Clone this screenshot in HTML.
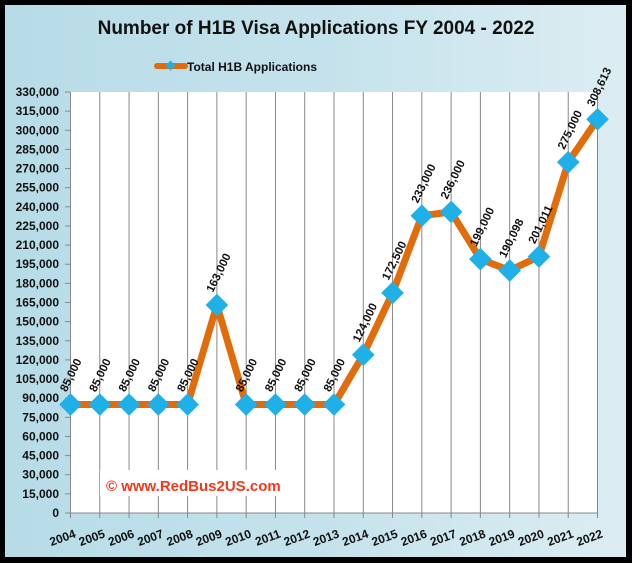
<!DOCTYPE html>
<html><head><meta charset="utf-8"><style>
html,body{margin:0;padding:0;background:#000;}
svg{display:block;}
text{font-family:"Liberation Sans",sans-serif;font-weight:bold;fill:#111;}
</style></head><body>
<svg width="632" height="563" viewBox="0 0 632 563" xmlns="http://www.w3.org/2000/svg">
<defs>
<linearGradient id="bg" x1="0" y1="0" x2="1" y2="0">
<stop offset="0" stop-color="#b7dce7"/><stop offset="0.5" stop-color="#c4e2ec"/><stop offset="1" stop-color="#dcedf2"/>
</linearGradient>
</defs>
<rect x="0" y="0" width="632" height="563" fill="#000"/>
<rect x="5" y="5" width="621" height="552" fill="url(#bg)"/>
<text x="316" y="34" font-size="19" text-anchor="middle">Number of H1B Visa Applications FY 2004 - 2022</text>
<line x1="157" y1="66" x2="185" y2="66" stroke="#e36c0a" stroke-width="6" stroke-linecap="round"/>
<rect x="167" y="62" width="7" height="7" fill="#1fb0e8" transform="rotate(45 170.5 65.5)"/>
<text x="187" y="71" font-size="12">Total H1B Applications</text>
<rect x="70" y="92" width="528" height="421" fill="#fff"/>
<g id="grid" stroke="#888" stroke-width="1"></g>
<g id="yl" font-size="12" text-anchor="end"></g>
<g id="xl" font-size="12"></g>
<rect x="100" y="470" width="190" height="26" fill="#fff"/>
<text x="106" y="491" font-size="15" style="fill:#f03a1a">© www.RedBus2US.com</text>
<polyline id="line" fill="none" stroke="#e36c0a" stroke-width="7" stroke-linejoin="round"/>
<g id="mk"></g>
<g id="dl" font-size="11.5"></g>
<script>
var data=[85000,85000,85000,85000,85000,163000,85000,85000,85000,85000,124000,172500,233000,236000,199000,190098,201011,275000,308613];
var x0=70.5,dx=(597.5-70.5)/18;function Y(v){return 513-v*421/330000;}
var ns="http://www.w3.org/2000/svg";
function el(t,a,p,txt){var e=document.createElementNS(ns,t);for(var k in a)e.setAttribute(k,a[k]);if(txt!=null)e.textContent=txt;document.getElementById(p).appendChild(e);return e;}
for(var i=0;i<19;i++){var x=x0+i*dx;el("line",{x1:x,y1:92,x2:x,y2:518},"grid");
el("text",{x:x+6,y:537,transform:"rotate(-20 "+(x+6)+" 537)","text-anchor":"end"},"xl",String(2004+i));}
for(var v=0;v<=330000;v+=15000){var y=Y(v);el("line",{x1:65,y1:y,x2:70,y2:y},"grid");
el("text",{x:59,y:y+4},"yl",v.toLocaleString("en-US"));}
el("line",{x1:70,y1:513,x2:598,y2:513},"grid");
var pts=data.map(function(v,i){return (x0+i*dx)+","+Y(v);}).join(" ");
document.getElementById("line").setAttribute("points",pts);
data.forEach(function(v,i){var x=x0+i*dx,y=Y(v);
el("rect",{x:x-8,y:y-8,width:16,height:16,fill:"#1fb0e8",transform:"rotate(45 "+x+" "+y+")"},"mk");
var lx=x-4,ly=y-12;el("text",{x:lx,y:ly,transform:"rotate(-64 "+lx+" "+ly+")"},"dl",v.toLocaleString("en-US"));});
</script>
</svg>
</body></html>
